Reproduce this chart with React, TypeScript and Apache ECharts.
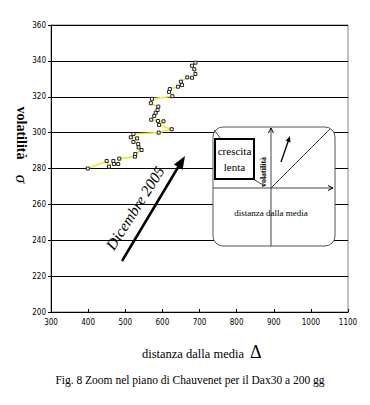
import React, { useEffect, useRef } from "react";
import * as echarts from "echarts";

const distanza = [399, 450, 456, 468, 470, 481, 484, 526, 527, 544, 536, 535, 522, 532, 515, 522, 590, 625, 591, 603, 588, 570, 578, 582, 587, 589, 569, 572, 627, 618, 620, 642, 653, 650, 667, 680, 689, 686, 680, 689];
const volatilita = [280, 284.2, 281, 284.2, 282.5, 282.5, 285.5, 286.6, 288.1, 290.3, 291.8, 293.7, 294.8, 296.8, 297.4, 299.2, 300, 301.9, 304.3, 306.3, 306.5, 307.2, 309.3, 311.1, 312.6, 314.5, 316.4, 318.8, 320.3, 322.7, 324.3, 325.6, 326.5, 328.4, 330.8, 330.6, 332.7, 335.3, 337.3, 339];
const xTicks = [300, 400, 500, 600, 700, 800, 900, 1000, 1100];
const yTicks = [200, 220, 240, 260, 280, 300, 320, 340, 360];

const serif = "Liberation Serif";
const tickFont = "DejaVu Sans Condensed";

function arrowHead(x1: number, y1: number, x2: number, y2: number, len: number, half: number) {
  const dx = x2 - x1, dy = y2 - y1;
  const d = Math.sqrt(dx * dx + dy * dy);
  const ux = dx / d, uy = dy / d;
  const bx = x2 - ux * len, by = y2 - uy * len;
  const px = -uy, py = ux;
  return [[bx + px * half, by + py * half], [x2, y2], [bx - px * half, by - py * half]];
}

function txt(x: number, y: number, text: string, size: number, opts: any = {}) {
  return {
    type: "text",
    x,
    y,
    rotation: opts.rotation || 0,
    z: opts.z || 5,
    style: {
      text,
      fontFamily: serif,
      fontSize: size,
      fontStyle: opts.italic ? "italic" : "normal",
      fontWeight: opts.bold ? "bold" : "normal",
      fill: "#000",
      align: opts.align || "center",
      verticalAlign: "middle",
    },
  };
}

export default function App() {
  const ref = useRef<HTMLDivElement>(null);
  useEffect(() => {
    if (!ref.current) return;
    const chart = echarts.init(ref.current, null, { renderer: "svg" });
    const data = distanza.map((x, i) => [x, volatilita[i]]);
    chart.setOption({
      animation: false,
      backgroundColor: "#fff",
      grid: { left: 51, right: 22, top: 25, bottom: 93, show: true, borderColor: "#808080", borderWidth: 1 },
      xAxis: {
        type: "value",
        min: xTicks[0],
        max: xTicks[xTicks.length - 1],
        interval: 100,
        axisLine: { show: true, onZero: false, lineStyle: { color: "#000", width: 1 } },
        axisTick: { show: true, inside: true, length: 3, lineStyle: { color: "#000" } },
        axisLabel: { fontFamily: tickFont, fontSize: 8, color: "#000", margin: 6, formatter: (v: number) => String(v) },
        splitLine: { show: false },
      },
      yAxis: {
        type: "value",
        min: yTicks[0],
        max: yTicks[yTicks.length - 1],
        interval: 20,
        axisLine: { show: true, lineStyle: { color: "#000", width: 1 } },
        axisTick: { show: true, inside: false, length: 3, lineStyle: { color: "#000" } },
        axisLabel: { fontFamily: tickFont, fontSize: 8, color: "#000", margin: 5, formatter: (v: number) => String(v) },
        splitLine: { show: true, lineStyle: { color: "#000", width: 1 } },
      },
      series: [
        {
          type: "line",
          data,
          symbol: "rect",
          symbolSize: 3,
          lineStyle: { color: "#ecec2a", width: 1.6 },
          itemStyle: { color: "#fff", borderColor: "#222", borderWidth: 1 },
          z: 3,
        },
      ],
      graphic: [
        txt(21, 133, "volatilità", 14, { bold: true, rotation: -Math.PI / 2 }),
        txt(21, 179, "σ", 17, { italic: true, rotation: -Math.PI / 2 }),
        txt(244, 354, "distanza dalla media", 12.5, { align: "right" }),
        txt(250, 352, "Δ", 18, { align: "left" }),
        txt(190, 380, "Fig. 8 Zoom nel piano di Chauvenet per il Dax30 a 200 gg", 11.5),
        { type: "line", shape: { x1: 122, y1: 261, x2: 183, y2: 159 }, style: { stroke: "#000", lineWidth: 2.5 } },
        { type: "polygon", shape: { points: arrowHead(122, 261, 185, 156, 13, 5) }, style: { fill: "#000" } },
        txt(135, 208, "Dicembre 2005", 15.5, { italic: true, rotation: (57.5 * Math.PI) / 180 }),
        { type: "rect", shape: { x: 213, y: 127, width: 122, height: 119, r: 10 }, style: { fill: "#fff", stroke: "#555", lineWidth: 1 }, z: 10 },
        { type: "line", shape: { x1: 271, y1: 128, x2: 271, y2: 246 }, style: { stroke: "#444", lineWidth: 1 }, z: 11 },
        { type: "polyline", shape: { points: [[268.5, 133], [271, 128], [273.5, 133]] }, style: { stroke: "#000", fill: null, lineWidth: 1 }, z: 11 },
        { type: "line", shape: { x1: 213, y1: 188, x2: 333, y2: 188 }, style: { stroke: "#444", lineWidth: 1 }, z: 11 },
        { type: "polyline", shape: { points: [[328, 185.5], [333, 188], [328, 190.5]] }, style: { stroke: "#000", fill: null, lineWidth: 1 }, z: 11 },
        { type: "line", shape: { x1: 271, y1: 188, x2: 330, y2: 129 }, style: { stroke: "#444", lineWidth: 1 }, z: 11 },
        { type: "line", shape: { x1: 214, y1: 130, x2: 221, y2: 139 }, style: { stroke: "#444", lineWidth: 1 }, z: 11 },
        { type: "line", shape: { x1: 253, y1: 179, x2: 265, y2: 186 }, style: { stroke: "#444", lineWidth: 1 }, z: 11 },
        { type: "line", shape: { x1: 281, y1: 162, x2: 289, y2: 139 }, style: { stroke: "#000", lineWidth: 1.3 }, z: 11 },
        { type: "polygon", shape: { points: arrowHead(281, 162, 290, 136, 6, 2.5) }, style: { fill: "#000" }, z: 11 },
        { type: "rect", shape: { x: 215, y: 139, width: 39, height: 40 }, style: { fill: "#fff", stroke: "#000", lineWidth: 2 }, z: 12 },
        txt(234.5, 151, "crescita", 11, { z: 13 }),
        txt(234.5, 167, "lenta", 11, { z: 13 }),
        txt(263, 172, "volatilità", 8, { bold: true, rotation: Math.PI / 2, z: 13 }),
        txt(271, 213, "distanza dalla media", 9, { z: 13 }),
      ],
    });
    return () => chart.dispose();
  }, []);
  return <div ref={ref} style={{ width: 370, height: 405, position: "absolute", left: 0, top: 0 }} />;
}
